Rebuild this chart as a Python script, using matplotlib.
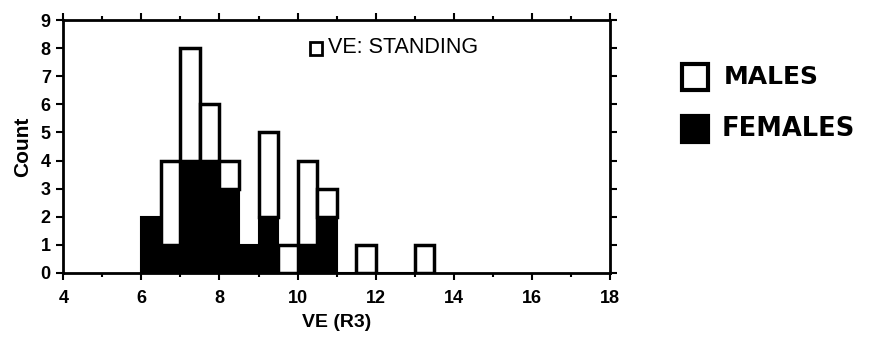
import matplotlib
matplotlib.use("Agg")
import matplotlib.pyplot as plt
from matplotlib.patches import Rectangle
import numpy as np

plt.rcParams['font.family'] = ['Liberation Sans', 'DejaVu Sans']

# histogram bins (left edges, width 0.5) and counts
bin_left = [6.0, 6.5, 7.0, 7.5, 8.0, 8.5, 9.0, 9.5, 10.0, 10.5, 11.0, 11.5, 12.0, 12.5, 13.0]
females = [2, 1, 4, 4, 3, 1, 2, 0, 1, 2, 0, 0, 0, 0, 0]
males = [0, 3, 4, 2, 1, 0, 3, 1, 3, 1, 0, 1, 0, 0, 1]
BIN_W = 0.5

x_ticks = [4, 6, 8, 10, 12, 14, 16, 18]
y_ticks = list(range(0, 10))

fig = plt.figure(figsize=(8.8, 3.45), dpi=100)
ax = fig.add_axes([0.072, 0.209, 0.621, 0.733])

ax.bar(bin_left, females, width=BIN_W, align='edge', color='black',
       edgecolor='black', linewidth=1.5, zorder=2)
# males stacked on top; skip empty bins so no stray outlines show
m = np.array(males)
fl = np.array(females)
bl = np.array(bin_left)
keep = m > 0
ax.bar(bl[keep], m[keep], bottom=fl[keep], width=BIN_W, align='edge',
       color='white', edgecolor='black', linewidth=2.5, zorder=3)

ax.set_xlim(4, 18)
ax.set_ylim(0, 9)
ax.set_xticks(x_ticks)
ax.set_xticks(range(5, 18, 2), minor=True)
ax.set_yticks(y_ticks)
ax.tick_params(axis='both', which='both', direction='out', top=True, right=True,
               labelsize=13, width=1.5)
ax.tick_params(which='major', length=5)
ax.tick_params(which='minor', length=3)
ax.tick_params(axis='x', pad=7)
ax.tick_params(axis='y', pad=4)
for lab in ax.get_xticklabels() + ax.get_yticklabels():
    lab.set_fontweight('bold')
for s in ax.spines.values():
    s.set_linewidth(2)

ax.set_xlabel('VE (R3)', fontsize=14, fontweight='bold', labelpad=5)
ax.set_ylabel('Count', fontsize=15, fontweight='bold', labelpad=6)

# inner legend
ax.add_patch(Rectangle((0.452, 0.862), 0.022, 0.053, transform=ax.transAxes,
                       facecolor='white', edgecolor='black', linewidth=2, zorder=5))
ax.text(0.484, 0.89, 'VE: STANDING', transform=ax.transAxes, fontsize=15.5,
        va='center', ha='left')

# hand-drawn style legend on the right
fig.add_artist(Rectangle((682 / 880, 1 - 90 / 345), 26 / 880, 26 / 345,
                         transform=fig.transFigure, facecolor='white',
                         edgecolor='black', linewidth=3))
fig.add_artist(Rectangle((682 / 880, 1 - 142 / 345), 26 / 880, 26 / 345,
                         transform=fig.transFigure, facecolor='black',
                         edgecolor='black', linewidth=3))
fig.text(724 / 880, 1 - 77 / 345, 'MALES', fontsize=18, fontweight='bold',
         family='DejaVu Sans', va='center', ha='left')
fig.text(722 / 880, 1 - 129 / 345, 'FEMALES', fontsize=18.5, fontweight='bold',
         family='DejaVu Sans', va='center', ha='left')

fig.savefig('out.png', dpi=100)
